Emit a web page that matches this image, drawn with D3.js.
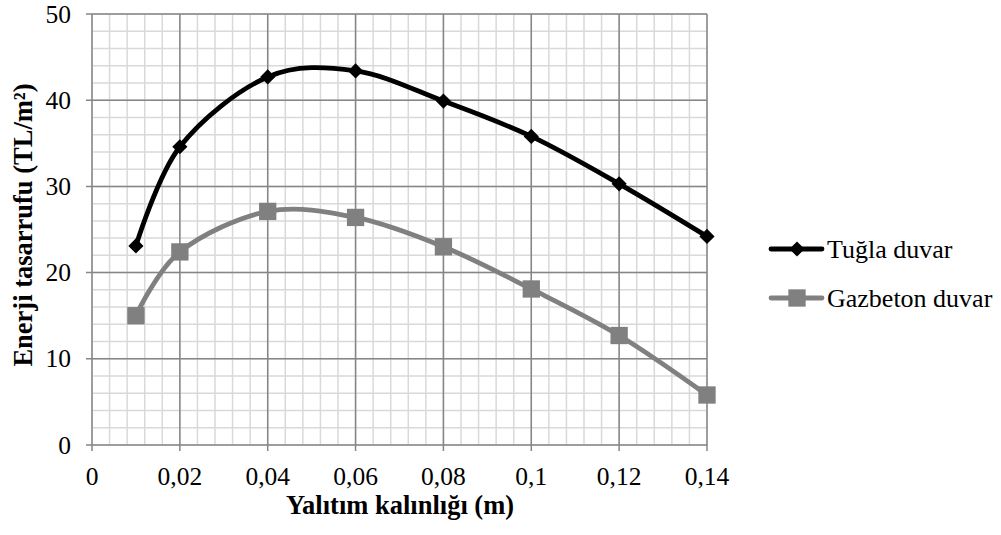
<!DOCTYPE html>
<html>
<head>
<meta charset="utf-8">
<script src="https://cdn.jsdelivr.net/npm/d3@7.9.0/dist/d3.min.js"></script>
<style>
  body { margin: 0; background: #fff; }
  text { font-family: "Liberation Serif", "DejaVu Serif", serif; }
</style>
</head>
<body>
<svg id="chart" width="1001" height="535"></svg>
<script>
const thickness = [0.01, 0.02, 0.04, 0.06, 0.08, 0.1, 0.12, 0.14];
const tugla = [23.1, 34.6, 42.7, 43.4, 39.9, 35.8, 30.3, 24.2];
const gazbeton = [15.0, 22.4, 27.1, 26.4, 23.0, 18.1, 12.7, 5.8];
const xTicks = [0, 0.02, 0.04, 0.06, 0.08, 0.1, 0.12, 0.14];
const yTicks = [0, 10, 20, 30, 40, 50];

const svg = d3.select('#chart');
const m = { left: 92, top: 14, right: 707, bottom: 445 };

const x = d3.scaleLinear().domain([0, 0.14]).range([m.left, m.right]);
const y = d3.scaleLinear().domain([0, 50]).range([m.bottom, m.top]);
const fmt = (d) => String(d).replace('.', ',');

// minor grid
const minorX = d3.range(0, 0.1401, 0.004);
const minorY = d3.range(0, 50.01, 2);
const grid = svg.append('g');
grid.selectAll('.mx').data(minorX).join('line')
  .attr('x1', (d) => x(d)).attr('x2', (d) => x(d))
  .attr('y1', m.top).attr('y2', m.bottom)
  .attr('stroke', '#d9d9d9').attr('stroke-width', 1.5);
grid.selectAll('.my').data(minorY).join('line')
  .attr('y1', (d) => y(d)).attr('y2', (d) => y(d))
  .attr('x1', m.left).attr('x2', m.right)
  .attr('stroke', '#d9d9d9').attr('stroke-width', 1.5);

// major grid
grid.selectAll('.Mx').data(xTicks).join('line')
  .attr('x1', (d) => x(d)).attr('x2', (d) => x(d))
  .attr('y1', m.top).attr('y2', m.bottom + 6)
  .attr('stroke', '#868686').attr('stroke-width', 1.5);
grid.selectAll('.My').data(yTicks).join('line')
  .attr('y1', (d) => y(d)).attr('y2', (d) => y(d))
  .attr('x1', m.left - 6).attr('x2', m.right)
  .attr('stroke', '#868686').attr('stroke-width', 1.5);

// tick labels
svg.append('g').selectAll('text').data(xTicks).join('text')
  .attr('x', (d) => x(d)).attr('y', 485)
  .attr('text-anchor', 'middle').attr('font-size', 25.5)
  .text(fmt);
svg.append('g').selectAll('text').data(yTicks).join('text')
  .attr('x', 71).attr('y', (d) => y(d) + 8.5)
  .attr('text-anchor', 'end').attr('font-size', 25.5)
  .text(fmt);

// axis titles
svg.append('text')
  .attr('x', 400).attr('y', 514)
  .attr('text-anchor', 'middle').attr('font-size', 26.5).attr('font-weight', 'bold')
  .text('Yalıtım kalınlığı (m)');
svg.append('text')
  .attr('transform', 'translate(32,225) rotate(-90)')
  .attr('text-anchor', 'middle').attr('font-size', 26.5).attr('font-weight', 'bold')
  .text('Enerji tasarrufu (TL/m²)');

const line = d3.line()
  .x((d) => x(d[0])).y((d) => y(d[1]))
  .curve(d3.curveCatmullRom.alpha(0));

const series = [
  { name: 'Tuğla duvar', values: tugla, color: '#000000', size: 115, rot: 45 },
  { name: 'Gazbeton duvar', values: gazbeton, color: '#808080', size: 300, rot: 0 }
];

series.forEach((s, i) => {
  const pts = thickness.map((t, j) => [t, s.values[j]]);
  svg.append('path')
    .attr('d', line(pts))
    .attr('fill', 'none').attr('stroke', s.color).attr('stroke-width', 4.8)
    .attr('stroke-linecap', 'round');
  const sym = d3.symbol().type(d3.symbolSquare).size(s.size);
  svg.append('g').selectAll('path').data(pts).join('path')
    .attr('transform', (d) => `translate(${x(d[0])},${y(d[1])}) rotate(${s.rot})`)
    .attr('d', sym).attr('fill', s.color);

  // legend
  const ly = 249 + i * 49;
  const lg = svg.append('g');
  lg.append('line')
    .attr('x1', 771).attr('x2', 822).attr('y1', ly).attr('y2', ly)
    .attr('stroke', s.color).attr('stroke-width', 4.8).attr('stroke-linecap', 'round');
  lg.append('path')
    .attr('transform', `translate(797,${ly}) rotate(${s.rot})`)
    .attr('d', sym).attr('fill', s.color);
  lg.append('text')
    .attr('x', 827).attr('y', ly + 9).attr('font-size', 26)
    .text(s.name);
});
</script>
</body>
</html>
